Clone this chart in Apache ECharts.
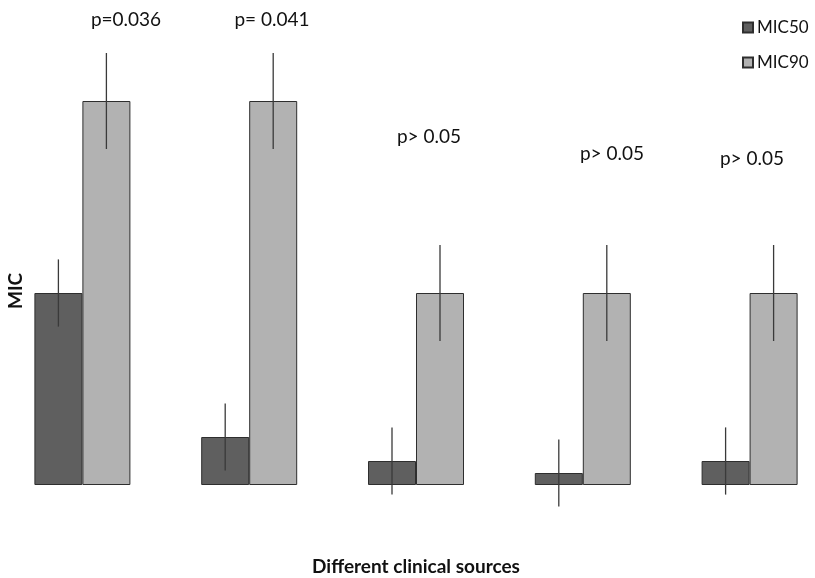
<!DOCTYPE html>
<html>
<head>
<meta charset="utf-8">
<script src="https://cdn.jsdelivr.net/npm/echarts@6/dist/echarts.min.js"></script>
<style>html,body{margin:0;padding:0;background:#fff}#c{width:815px;height:578px}</style>
</head>
<body>
<div id="c"></div>
<script>
const categories = ['Source 1', 'Source 2', 'Source 3', 'Source 4', 'Source 5'];
const mic50 = [8, 2, 1, 0.5, 1];
const mic90 = [16, 16, 8, 8, 8];
const mic50Err = [1.4, 1.4, 1.4, 1.4, 1.4];
const mic90Err = [2, 2, 2, 2, 2];
const pLabels = ['p=0.036', 'p= 0.041', 'p> 0.05', 'p> 0.05', 'p> 0.05'];

const BAR_W = 48;
const FONT = 'Lato, "Open Sans", sans-serif';

function errSeries(name, vals, errs, offset) {
  return {
    type: 'custom',
    name: name + ' err',
    z: 10,
    silent: true,
    clip: false,
    data: vals.map((v, i) => [i, v, errs[i]]),
    renderItem: function (params, api) {
      const i = api.value(0), v = api.value(1), e = api.value(2);
      const top = api.coord([i, v + e]);
      const bot = api.coord([i, v - e]);
      const x = top[0] + offset;
      return {
        type: 'line',
        shape: { x1: x, y1: top[1], x2: x, y2: bot[1] },
        style: { stroke: '#3a3a3a', lineWidth: 1.3 }
      };
    }
  };
}

const chart = echarts.init(document.getElementById('c'));
chart.setOption({
  backgroundColor: '#ffffff',
  animation: false,
  grid: { left: -1, top: 5, width: 834, height: 480, containLabel: false, outerBoundsMode: 'none' },
  legend: {
    data: ['MIC50', 'MIC90'],
    orient: 'vertical',
    left: 737,
    top: 14,
    icon: 'rect',
    itemWidth: 10,
    itemHeight: 10,
    itemGap: 18,
    textStyle: { fontFamily: FONT, fontSize: 17, color: '#111', padding: [0, 0, 0, -1] }
  },
  xAxis: {
    type: 'category',
    data: categories,
    axisLine: { show: false },
    axisTick: { show: false },
    axisLabel: { show: false },
    name: 'Different clinical sources',
    nameLocation: 'middle',
    nameGap: 72,
    nameTextStyle: { fontFamily: FONT, fontSize: 19, fontWeight: 'bold', color: '#111' }
  },
  yAxis: {
    type: 'value',
    min: 0,
    max: 20,
    axisLine: { show: false },
    axisTick: { show: false },
    axisLabel: { show: false },
    splitLine: { show: false }
  },
  graphic: [
    {
      type: 'text',
      x: 16, y: 291, rotation: Math.PI / 2,
      style: { text: 'MIC', fill: '#111', font: 'bold 19px ' + FONT, textAlign: 'center', textVerticalAlign: 'middle' }
    }
  ].concat([
    [126, 20], [272, 20], [429, 137], [612, 154], [752, 159]
  ].map((p, i) => ({
    type: 'text',
    x: p[0], y: p[1],
    style: { text: pLabels[i], fill: '#111', font: '19px ' + FONT, textAlign: 'center', textVerticalAlign: 'middle' }
  }))),
  series: [
    {
      name: 'MIC50', type: 'bar', data: mic50, barWidth: BAR_W, barGap: '0%',
      itemStyle: { color: '#5f5f5f', borderColor: '#2e2e2e', borderWidth: 1 }
    },
    {
      name: 'MIC90', type: 'bar', data: mic90, barWidth: BAR_W, barGap: '0%',
      itemStyle: { color: '#b2b2b2', borderColor: '#2e2e2e', borderWidth: 1 }
    },
    errSeries('MIC50', mic50, mic50Err, -BAR_W / 2),
    errSeries('MIC90', mic90, mic90Err, BAR_W / 2)
  ]
});
</script>
</body>
</html>
